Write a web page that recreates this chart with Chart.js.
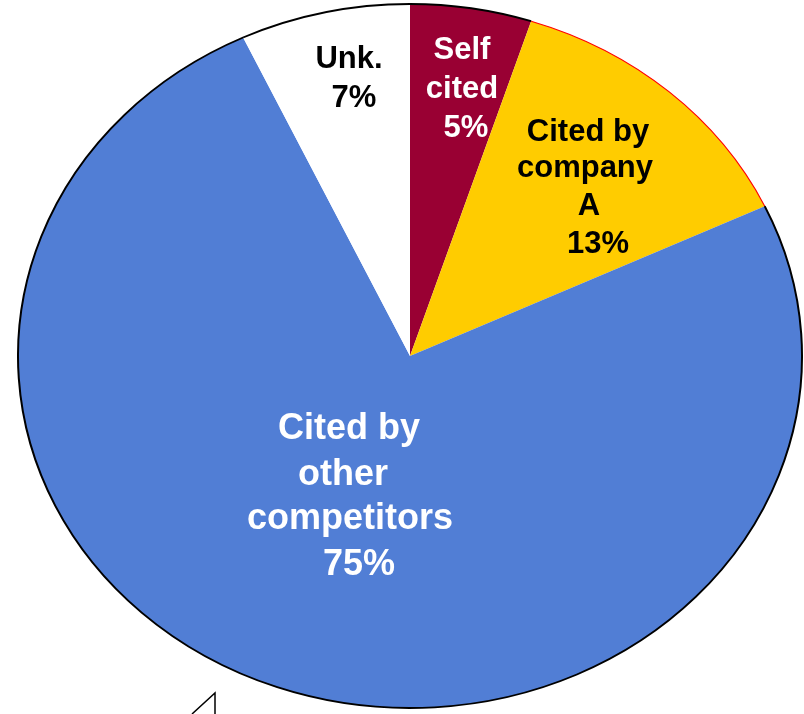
<!DOCTYPE html>
<html>
<head>
<meta charset="utf-8">
<script src="https://cdn.jsdelivr.net/npm/chart.js@4/dist/chart.umd.min.js"></script>
<style>
    html, body { margin: 0; padding: 0; background: #ffffff; overflow: hidden; }
    #grafico { display: block; }
</style>
</head>
<body>
<canvas id="grafico" width="804" height="714"></canvas>
<script>
var categorias = ['Self cited', 'Cited by company A', 'Cited by other competitors', 'Unk.']
var valores = [5, 13, 75, 7]
var cores = ['#990033', '#ffcc00', '#517ed5', '#ffffff']
var cores_borda = ['#000000', '#ff0000', '#000000', '#000000']

// the pie is drawn as a circle and squashed vertically into an ellipse
var achatamento = 352 / 392

// text of each slice: [line, center x, baseline y]
var rotulos = [
    { cor: '#ffffff', tamanho: 31, linhas: [['Self', 462, 59], ['cited', 462, 98], [valores[0] + '%', 466, 137]] },
    { cor: '#000000', tamanho: 31, linhas: [['Cited by', 588, 141], ['company', 585, 177], ['A', 589, 215], [valores[1] + '%', 598, 253]] },
    { cor: '#ffffff', tamanho: 36, linhas: [['Cited by', 349, 439], ['other', 343, 485], ['competitors', 350, 529], [valores[2] + '%', 359, 575]] },
    { cor: '#000000', tamanho: 31, linhas: [['Unk.', 349, 68], [valores[3] + '%', 354, 107]] }
]

var elipse = {
    id: 'elipse',
    beforeDatasetsDraw: function (chart) {
        var centro = chart.getDatasetMeta(0).data[0]
        var ctx = chart.ctx
        ctx.save()
        ctx.translate(centro.x, centro.y)
        ctx.scale(1, achatamento)
        ctx.translate(-centro.x, -centro.y)
    },
    afterDatasetsDraw: function (chart) {
        var ctx = chart.ctx
        var arcos = chart.getDatasetMeta(0).data

        // outline only on the outer edge of each slice
        for (let i = 0; i < arcos.length; i++) {
            var a = arcos[i]
            ctx.beginPath()
            ctx.arc(a.x, a.y, a.outerRadius, a.startAngle, a.endAngle)
            ctx.strokeStyle = cores_borda[i]
            ctx.lineWidth = i == 1 ? 1.2 : 2
            ctx.stroke()
        }
        ctx.restore()
    },
    afterDraw: function (chart) {
        var ctx = chart.ctx
        ctx.save()
        ctx.textAlign = 'center'
        ctx.textBaseline = 'alphabetic'
        for (let i = 0; i < rotulos.length; i++) {
            var r = rotulos[i]
            ctx.fillStyle = r.cor
            ctx.font = 'bold ' + r.tamanho + 'px "Liberation Sans", Arial, sans-serif'
            for (let j = 0; j < r.linhas.length; j++) {
                ctx.fillText(r.linhas[j][0], r.linhas[j][1], r.linhas[j][2])
            }
        }

        // piece of a callout at the bottom edge
        ctx.beginPath()
        ctx.moveTo(192, 714)
        ctx.lineTo(215, 693)
        ctx.lineTo(215, 714)
        ctx.strokeStyle = '#000000'
        ctx.lineWidth = 1.5
        ctx.stroke()
        ctx.restore()
    }
}

var ctx = document.getElementById('grafico').getContext('2d')
var grafico = new Chart(ctx, {
    type: 'pie',
    data: {
        labels: categorias,
        datasets: [{
            data: valores,
            backgroundColor: cores,
            borderWidth: 0,
            radius: 392,
            clip: false
        }]
    },
    options: {
        responsive: false,
        animation: false,
        events: [],
        layout: { padding: { left: 16, right: 0, top: 0, bottom: 2 } },
        plugins: {
            legend: { display: false },
            tooltip: { enabled: false }
        }
    },
    plugins: [elipse]
})
</script>
</body>
</html>
